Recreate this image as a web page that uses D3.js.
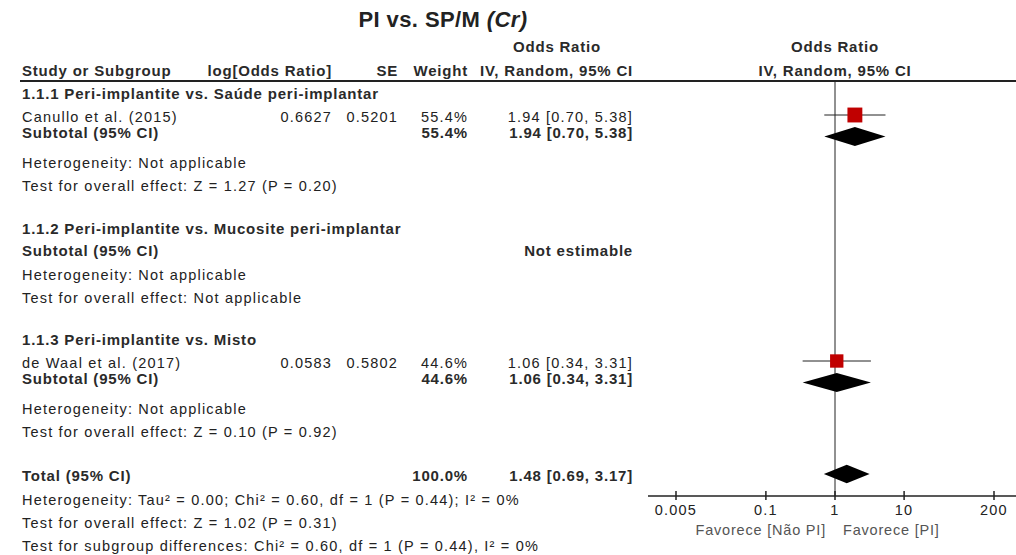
<!DOCTYPE html>
<html>
<head>
<meta charset="utf-8">
<script src="https://cdn.jsdelivr.net/npm/d3@7"></script>
<style>
  html, body { margin: 0; padding: 0; background: #fff; }
  svg { display: block; }
  text { font-family: "Liberation Sans", Arial, sans-serif; fill: #222; }
  .n { font-size: 14.5px; letter-spacing: 1.2px; }
  .b { font-size: 15px; font-weight: bold; letter-spacing: 0.8px; fill: #2a2a2a; }
  .fav { font-size: 14.5px; letter-spacing: 0.8px; fill: #555; }
</style>
</head>
<body>
<svg id="plot" width="1016" height="555"></svg>
<script>
// Studies
const studyNames = ["Canullo et al. (2015)", "de Waal et al. (2017)"];
const studyGroup = [0, 2];               // index of the subgroup each study belongs to
const logOR      = ["0.6627", "0.0583"];
const seOR       = ["0.5201", "0.5802"];
const weights    = [55.4, 44.6];
const orEst      = [1.94, 1.06];
const orLow      = [0.70, 0.34];
const orHigh     = [5.38, 3.31];

// Subgroups
const groupNames   = ["1.1.1 Peri-implantite vs. Saúde peri-implantar",
                      "1.1.2 Peri-implantite vs. Mucosite peri-implantar",
                      "1.1.3 Peri-implantite vs. Misto"];
const groupWeight  = [55.4, null, 44.6];
const groupEst     = [1.94, null, 1.06];
const groupLow     = [0.70, null, 0.34];
const groupHigh    = [5.38, null, 3.31];
const groupHet     = ["Heterogeneity: Not applicable",
                      "Heterogeneity: Not applicable",
                      "Heterogeneity: Not applicable"];
const groupEffect  = ["Test for overall effect: Z = 1.27 (P = 0.20)",
                      "Test for overall effect: Not applicable",
                      "Test for overall effect: Z = 0.10 (P = 0.92)"];

// Overall
const totalWeight = 100.0;
const totalEst = 1.48, totalLow = 0.69, totalHigh = 3.17;
const totalNotes = ["Heterogeneity: Tau² = 0.00; Chi² = 0.60, df = 1 (P = 0.44); I² = 0%",
                    "Test for overall effect: Z = 1.02 (P = 0.31)",
                    "Test for subgroup differences: Chi² = 0.60, df = 1 (P = 0.44), I² = 0%"];

// Axis
const tickValues = [0.005, 0.1, 1, 10, 200];
const favourLeft = "Favorece [Não PI]";
const favourRight = "Favorece [PI]";

const svg = d3.select("#plot");
const fmt2 = d3.format(".2f");
const ciText = (e, l, h) => `${fmt2(e)} [${fmt2(l)}, ${fmt2(h)}]`;

// column anchors
const xLeft = 22, xLog = 332, xSE = 398, xW = 468, xCI = 633, xCIc = 557;

const x = d3.scaleLog().domain([0.005, 200]).range([676, 994]);
const axisY = 496, headerLine = 81;

function txt(xp, yp, s, cls, anchor) {
  return svg.append("text").attr("x", xp).attr("y", yp)
    .attr("class", cls).attr("text-anchor", anchor || "start").text(s);
}

// title
svg.append("text").attr("x", 443).attr("y", 27).attr("text-anchor", "middle")
  .style("font-size", "22px").style("font-weight", "bold").style("letter-spacing", "0.4px")
  .call(t => {
    t.append("tspan").text("PI vs. SP/M ");
    t.append("tspan").style("font-style", "italic").text("(Cr)");
  });

// headers
txt(xCIc, 52, "Odds Ratio", "b", "middle");
txt(x(1), 52, "Odds Ratio", "b", "middle");
txt(xLeft, 76, "Study or Subgroup", "b");
txt(xLog, 76, "log[Odds Ratio]", "b", "end");
txt(xSE, 76, "SE", "b", "end");
txt(xW, 76, "Weight", "b", "end");
txt(xCI, 76, "IV, Random, 95% CI", "b", "end");
txt(x(1), 76, "IV, Random, 95% CI", "b", "middle");

svg.append("line").attr("x1", 20).attr("x2", 1016)
  .attr("y1", headerLine).attr("y2", headerLine)
  .attr("stroke", "#222").attr("stroke-width", 2);

// null effect line
svg.append("line").attr("x1", x(1)).attr("x2", x(1))
  .attr("y1", headerLine).attr("y2", axisY)
  .attr("stroke", "#222").attr("stroke-width", 1);

function diamond(yc, e, l, h, hh) {
  const pts = [[x(l), yc], [x(e), yc - hh], [x(h), yc], [x(e), yc + hh]];
  svg.append("path").attr("d", d3.line()(pts) + "Z").attr("fill", "#000");
}

// subgroups
const groupTop = [99, 234, 345];
groupNames.forEach((g, gi) => {
  let y = groupTop[gi];
  txt(xLeft, y, g, "b");
  const idx = studyNames.map((_, i) => i).filter(i => studyGroup[i] === gi);
  idx.forEach(i => {
    y += 23;
    txt(xLeft, y, studyNames[i], "n");
    txt(xLog, y, logOR[i], "n", "end");
    txt(xSE, y, seOR[i], "n", "end");
    txt(xW, y, weights[i].toFixed(1) + "%", "n", "end");
    txt(xCI, y, ciText(orEst[i], orLow[i], orHigh[i]), "n", "end");
    const yc = y - 7;
    svg.append("line").attr("x1", x(orLow[i])).attr("x2", x(orHigh[i]))
      .attr("y1", yc).attr("y2", yc).attr("stroke", "#222").attr("stroke-width", 1);
    const s = 2.0 * Math.sqrt(weights[i]);
    svg.append("rect").attr("x", x(orEst[i]) - s / 2).attr("y", yc - s / 2)
      .attr("width", s).attr("height", s).attr("fill", "#c00000");
  });
  y += idx.length ? 16 : 22;
  txt(xLeft, y, "Subtotal (95% CI)", "b");
  if (groupEst[gi] != null) {
    txt(xW, y, groupWeight[gi].toFixed(1) + "%", "b", "end");
    txt(xCI, y, ciText(groupEst[gi], groupLow[gi], groupHigh[gi]), "b", "end");
    diamond(y - 1.5, groupEst[gi], groupLow[gi], groupHigh[gi], 9.5);
  } else {
    txt(xCI, y, "Not estimable", "b", "end");
  }
  y += idx.length ? 30 : 24;
  txt(xLeft, y, groupHet[gi], "n");
  y += 23;
  txt(xLeft, y, groupEffect[gi], "n");
});

// total
const yTot = 481;
txt(xLeft, yTot, "Total (95% CI)", "b");
txt(xW, yTot, totalWeight.toFixed(1) + "%", "b", "end");
txt(xCI, yTot, ciText(totalEst, totalLow, totalHigh), "b", "end");
diamond(yTot - 7, totalEst, totalLow, totalHigh, 9.3);
totalNotes.forEach((s, i) => txt(xLeft, yTot + 24 + i * 23, s, "n"));

// axis
const ax = svg.append("g").attr("transform", `translate(0,${axisY})`);
ax.append("line").attr("x1", 648).attr("x2", 1016).attr("stroke", "#222").attr("stroke-width", 1.5);
ax.selectAll("line.tick").data(tickValues).join("line").attr("class", "tick")
  .attr("x1", d => x(d)).attr("x2", d => x(d)).attr("y1", -5).attr("y2", 4)
  .attr("stroke", "#222").attr("stroke-width", 1.5);
ax.selectAll("text.tl").data(tickValues).join("text").attr("class", "tl n")
  .attr("x", d => x(d)).attr("y", 19).attr("text-anchor", "middle")
  .text(d => d3.format("~g")(d));
txt(x(1) - 9, 535, favourLeft, "fav", "end");
txt(x(1) + 8, 535, favourRight, "fav", "start");
</script>
</body>
</html>
